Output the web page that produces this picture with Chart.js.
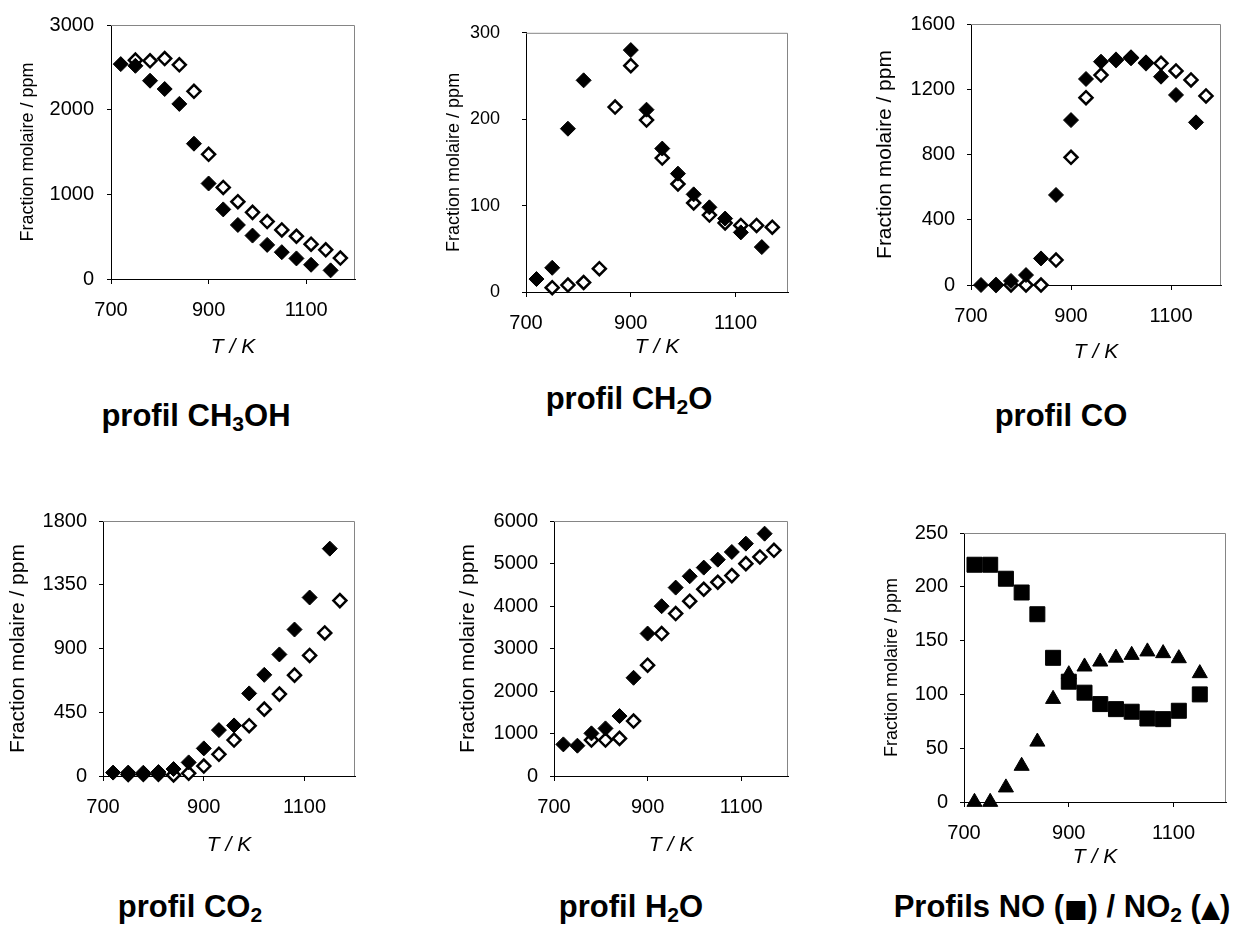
<!DOCTYPE html>
<html>
<head>
<meta charset="utf-8">
<script src="https://cdn.jsdelivr.net/npm/chart.js@4.4.1/dist/chart.umd.min.js"></script>
<style>
    body { margin: 0; background: #fff; width: 1254px; height: 927px; overflow: hidden; position: relative;
           font-family: "Liberation Sans", Arial, sans-serif; }
    canvas { position: absolute; }
    .title { position: absolute; width: 440px; text-align: center; font-weight: bold; font-size: 31px;
             line-height: 31px; white-space: nowrap; color: #000; }
    .title sub { font-size: 0.68em; line-height: 0; vertical-align: -0.22em; }
    .sym { font-family: "DejaVu Sans", sans-serif; font-size: 0.8em; }
</style>
</head>
<body>
<canvas id="c1"></canvas>
<canvas id="c2"></canvas>
<canvas id="c3"></canvas>
<canvas id="c4"></canvas>
<canvas id="c5"></canvas>
<canvas id="c6"></canvas>

<div class="title" style="left:-24px; top:400px;">profil CH<sub>3</sub>OH</div>
<div class="title" style="left:409px; top:383px;">profil CH<sub>2</sub>O</div>
<div class="title" style="left:841px; top:400px;">profil CO</div>
<div class="title" style="left:-30px; top:891px;">profil CO<sub>2</sub></div>
<div class="title" style="left:411px; top:891px;">profil H<sub>2</sub>O</div>
<div class="title" style="left:842px; top:891px;">Profils NO (<span class="sym">■</span>) / NO<sub>2</sub> (<span class="sym">▲</span>)</div>

<script>
// Temperatures (K)
const tFilled = [720, 750, 780, 810, 840, 870, 900, 930, 960, 990, 1020, 1050, 1080, 1110, 1150];
const tOpen = [750, 780, 810, 840, 870, 900, 930, 960, 990, 1020, 1050, 1080, 1110, 1140, 1170];
const xTickValues = [700, 900, 1100];

// CH3OH
const ch3ohFilled = [2538, 2518, 2342, 2244, 2068, 1598, 1128, 822, 638, 513, 403, 317, 243, 168, 102];
const ch3ohOpen = [2585, 2577, 2604, 2530, 2217, 1473, 1081, 913, 787, 678, 580, 505, 411, 345, 247];

// CH2O
const ch2oFilled = [15, 28, 189, 245, null, null, 280, 211, 166, 137, 113, 98, 85, 69, 52];
const ch2oOpen = [5, 8, 11, 27, 214, 262, 199, 155, 125, 103, 89, 80, 77, 77, 75];

// CO
const coFilled = [0, 0, 25, 61, 163, 552, 1011, 1263, 1369, 1379, 1390, 1365, 1277, 1165, 997];
const coOpen = [0, 0, 0, 0, 153, 783, 1148, 1287, 1380, 1395, 1360, 1359, 1312, 1257, 1159];

// CO2
const co2Filled = [24, 24, 23, 28, 49, 96, 195, 324, 357, 583, 714, 858, 1034, 1260, 1605];
const co2Open = [10, 12, 12, 7, 19, 70, 153, 254, 355, 472, 578, 712, 851, 1010, 1238];

// H2O
const h2oFilled = [744, 713, 1003, 1120, 1410, 2311, 3352, 3995, 4433, 4700, 4903, 5091, 5271, 5467, 5702];
const h2oOpen = [null, 846, 846, 885, 1292, 2608, 3352, 3822, 4112, 4394, 4559, 4715, 4997, 5154, 5311];

// NO / NO2
const noValues = [220.5, 220.5, 207.5, 194.7, 174.5, 134, 111.8, 101.6, 91, 86.3, 83.9, 77.6, 77, 84.8, 100];
const no2Values = [0, 0, 13.4, 33.5, 56, 95.7, 118.6, 125.8, 130.4, 134, 136.6, 139.8, 138.2, 133.5, 119.6];

const FONT = '"Liberation Sans", Arial, sans-serif';

function points(xs, ys) {
    return xs.map((x, i) => ({ x: x, y: ys[i] })).filter(p => p.y !== null);
}

function filledSet(xs, ys) {
    return { data: points(xs, ys), pointStyle: 'rectRot', pointRadius: 7.5,
             backgroundColor: '#000', borderColor: '#000', borderWidth: 1, clip: false };
}

function openSet(xs, ys) {
    return { data: points(xs, ys), pointStyle: 'rectRot', pointRadius: 6.5,
             backgroundColor: '#fff', borderColor: '#000', borderWidth: 2.5, clip: false };
}

// Gray top/right frame of the plot box
const frame = {
    id: 'frame',
    beforeDatasetsDraw(chart) {
        const a = chart.chartArea;
        const ctx = chart.ctx;
        ctx.save();
        ctx.strokeStyle = '#858585';
        ctx.lineWidth = 1;
        ctx.beginPath();
        ctx.moveTo(a.left, a.top + 0.5);
        ctx.lineTo(a.right - 0.5, a.top + 0.5);
        ctx.lineTo(a.right - 0.5, a.bottom);
        ctx.stroke();
        ctx.restore();
    }
};

function makePanel(p, datasets) {
    const canvas = document.getElementById(p.id);
    canvas.width = p.w;
    canvas.height = p.h;
    canvas.style.left = p.x + 'px';
    canvas.style.top = p.y + 'px';

    const [L, T, R, B] = p.plot;
    const yLH = p.yTitleSize * 1.2;
    const xLH = 21 * 1.2;

    new Chart(canvas, {
        type: 'scatter',
        data: { datasets: datasets },
        options: {
            responsive: false,
            animation: false,
            events: [],
            layout: { padding: { left: 0, top: T - p.y, right: p.x + p.w - R, bottom: 0 } },
            plugins: { legend: { display: false }, tooltip: { enabled: false } },
            scales: {
                x: {
                    type: 'linear', min: 700, max: 1200,
                    afterFit: s => { s.height = p.y + p.h - B; },
                    afterBuildTicks: s => { s.ticks = xTickValues.map(v => ({ value: v })); },
                    ticks: { maxRotation: 0, color: '#000', callback: v => String(v),
                             font: { family: FONT, size: 20 }, padding: 14 },
                    grid: { drawOnChartArea: false, drawTicks: true, tickLength: 5, color: '#000' },
                    border: { color: '#000', width: 1 },
                    title: { display: true, text: 'T / K', color: '#000',
                             font: { family: FONT, size: 21, style: 'italic' },
                             padding: { top: 0, bottom: p.y + p.h - p.xTitleY - xLH / 2 } }
                },
                y: {
                    min: 0, max: p.yMax,
                    afterFit: s => { s.width = L - p.x; },
                    ticks: { stepSize: p.yStep, color: '#000', callback: v => String(v),
                             font: { family: FONT, size: p.yTickSize }, padding: p.yTickPad },
                    grid: { drawOnChartArea: false, drawTicks: true, tickLength: 4, color: '#000' },
                    border: { color: '#000', width: 1 },
                    title: { display: true, text: 'Fraction molaire / ppm', color: '#000',
                             font: { family: FONT, size: p.yTitleSize },
                             padding: { top: p.yTitleX - p.x - yLH / 2, bottom: 0 } }
                }
            }
        },
        plugins: [frame]
    });
}

makePanel({ id: 'c1', x: 0, y: 0, w: 390, h: 362, plot: [111, 24, 355, 279],
            yMax: 3000, yStep: 1000, yTickSize: 20, yTickPad: 13, yTitleSize: 18, yTitleX: 28.5, xTitleY: 347 },
          [filledSet(tFilled, ch3ohFilled), openSet(tOpen, ch3ohOpen)]);

makePanel({ id: 'c2', x: 420, y: 0, w: 390, h: 362, plot: [526, 24, 788, 292],
            yMax: 300, yStep: 100, yTickSize: 18, yTickPad: 22, yTitleSize: 18, yTitleX: 454.5, xTitleY: 347 },
          [filledSet(tFilled, ch2oFilled), openSet(tOpen, ch2oOpen)]);

makePanel({ id: 'c3', x: 850, y: 0, w: 404, h: 367, plot: [971, 24, 1221, 285],
            yMax: 1600, yStep: 400, yTickSize: 20, yTickPad: 12, yTitleSize: 21, yTitleX: 885, xTitleY: 352 },
          [filledSet(tFilled, coFilled), openSet(tOpen, coOpen)]);

makePanel({ id: 'c4', x: 0, y: 495, w: 390, h: 365, plot: [103, 521, 355, 776],
            yMax: 1800, yStep: 450, yTickSize: 20, yTickPad: 12, yTitleSize: 21, yTitleX: 18.5, xTitleY: 845 },
          [filledSet(tFilled, co2Filled), openSet(tOpen, co2Open)]);

makePanel({ id: 'c5', x: 420, y: 495, w: 390, h: 365, plot: [554, 521, 788, 776],
            yMax: 6000, yStep: 1000, yTickSize: 20, yTickPad: 12, yTitleSize: 21, yTitleX: 468, xTitleY: 845 },
          [filledSet(tFilled, h2oFilled), openSet(tOpen, h2oOpen)]);

makePanel({ id: 'c6', x: 850, y: 505, w: 404, h: 367, plot: [964, 533, 1226, 802],
            yMax: 250, yStep: 50, yTickSize: 20, yTickPad: 12, yTitleSize: 18, yTitleX: 892.5, xTitleY: 857 },
          [
              { data: points(tFilled, noValues), pointStyle: 'rect', pointRadius: 10.6,
                backgroundColor: '#000', borderColor: '#000', borderWidth: 1, clip: false },
              { data: points(tFilled, no2Values), pointStyle: 'triangle', pointRadius: 8.7,
                backgroundColor: '#000', borderColor: '#000', borderWidth: 1, clip: false }
          ]);
</script>
</body>
</html>
